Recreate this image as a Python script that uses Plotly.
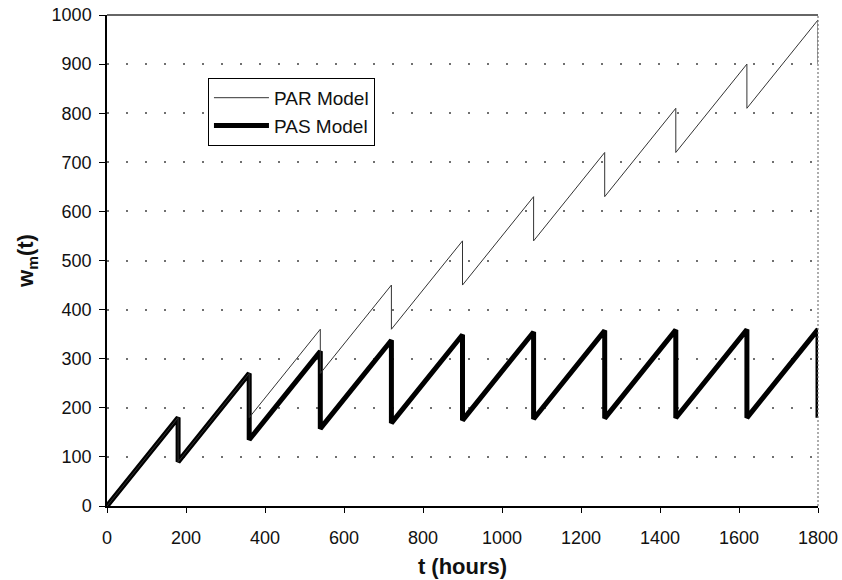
import plotly.graph_objects as go

# Time points (hours) at sawtooth vertices
t = [0, 180, 180, 360, 360, 540, 540, 720, 720, 900, 900,
     1080, 1080, 1260, 1260, 1440, 1440, 1620, 1620, 1800, 1800]

# PAR Model values
par = [0, 180, 90, 270, 180, 360, 270, 450, 360, 540, 450,
       630, 540, 720, 630, 810, 720, 900, 810, 990, 900]

# PAS Model values
pas = [0, 180, 90, 270, 135, 315, 157.5, 337.5, 168.8, 348.8, 174.4,
       354.4, 177.2, 357.2, 178.6, 358.6, 179.3, 359.3, 179.6, 359.6, 179.8]

x_ticks = [0, 200, 400, 600, 800, 1000, 1200, 1400, 1600, 1800]
y_ticks = [0, 100, 200, 300, 400, 500, 600, 700, 800, 900, 1000]

FONT = "Liberation Sans, Arial, sans-serif"

fig = go.Figure()
fig.add_trace(go.Scatter(x=t, y=pas, mode="lines", name="PAS Model",
                         line=dict(color="black", width=5), legendrank=2))
fig.add_trace(go.Scatter(x=t, y=par, mode="lines", name="PAR Model",
                         line=dict(color="#333333", width=1), legendrank=1))

fig.update_layout(
    width=842, height=580,
    margin=dict(l=107, r=24, t=15, b=74, autoexpand=False),
    paper_bgcolor="white", plot_bgcolor="white",
    font=dict(family=FONT, size=18, color="#111111"),
    showlegend=True,
    legend=dict(x=0.142, y=0.872, xanchor="left", yanchor="top",
                bgcolor="white", bordercolor="black", borderwidth=1,
                font=dict(size=19), tracegroupgap=0, itemwidth=55,
                traceorder="normal"),
    xaxis=dict(range=[0, 1800], tickvals=x_ticks, ticktext=[str(v) for v in x_ticks],
               automargin=False, ticklabelstandoff=10,
               showgrid=False, zeroline=False, showline=True, linecolor="black",
               linewidth=1.5, ticks="outside", ticklen=5, tickwidth=1.2,
               tickcolor="black",
               title=dict(text="<b>t (hours)</b>", font=dict(size=22), standoff=11)),
    yaxis=dict(range=[0, 1000], tickvals=y_ticks, ticktext=[str(v) for v in y_ticks],
               automargin=False, ticklabelstandoff=4,
               showgrid=True, gridcolor="#707070", gridwidth=1.5, griddash="2px,17px",
               zeroline=False, showline=True, linecolor="black", linewidth=1.5,
               ticks="outside", ticklen=6, tickwidth=1.2, tickcolor="black",
               title=dict(text="<b>w<sub>m</sub>(t)</b>", font=dict(size=22), standoff=12)),
    xaxis2=dict(range=[0, 1800], overlaying="x", anchor="y", tickvals=x_ticks,
                automargin=False,
                showticklabels=False, showgrid=False, zeroline=False,
                ticks="inside", ticklen=5, tickwidth=1.2, tickcolor="black"),
    yaxis2=dict(range=[0, 1000], overlaying="y", anchor="x", tickvals=y_ticks,
                automargin=False,
                showticklabels=False, showgrid=False, zeroline=False,
                ticks="inside", ticklen=6, tickwidth=1.2, tickcolor="black"),
    shapes=[
        dict(type="line", xref="paper", yref="paper", x0=0, x1=1, y0=1, y1=1,
             line=dict(color="#333333", width=1.5)),
        dict(type="line", xref="paper", yref="paper", x0=1, x1=1, y0=0, y1=1,
             line=dict(color="#777777", width=1.2, dash="2px,2px")),
    ],
)

# remove the browser's default 8px page margin so the 842x580 figure fills the window
fig.write_html("out.html", config={"displayModeBar": False},
               post_script="document.body.style.margin='0';document.body.style.overflow='hidden';")
